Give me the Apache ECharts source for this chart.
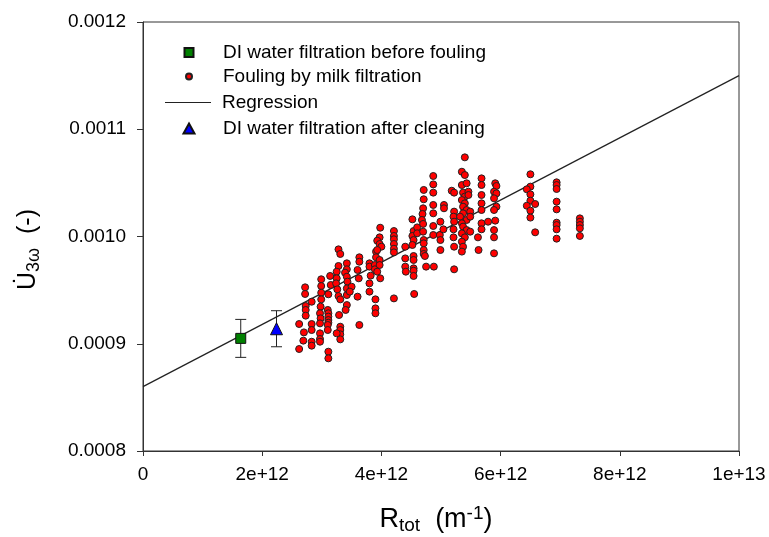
<!DOCTYPE html>
<html><head><meta charset="utf-8">
<script src="https://cdn.jsdelivr.net/npm/echarts@6/dist/echarts.min.js"></script>
<style>html,body{margin:0;padding:0;background:#fff}#chart{width:769px;height:537px}</style>
</head><body><div id="chart"></div>
<script>
// ---- data ----
const xTicks = [0, 2e12, 4e12, 6e12, 8e12, 1e13];
const yTicks = [0.0008, 0.0009, 0.0010, 0.0011, 0.0012];

const beforeX = [1.64e12];
const beforeY = [0.000905];
const beforeErr = [0.0000177];

const afterX = [2.24e12];
const afterY = [0.000914];
const afterErr = [0.0000168];

const regX = [0, 1e13];
const regY = [0.00086, 0.00115];

const milkPoints = [
[2.62e12,0.0009184],[2.62e12,0.0008951],[2.72e12,0.0009526],[2.72e12,0.0009464],[2.73e12,0.0009352],
[2.73e12,0.0009315],[2.73e12,0.0009262],[2.70e12,0.0009106],[2.69e12,0.0009029],[2.83e12,0.0009392],
[2.83e12,0.0009184],[2.83e12,0.0009128],[2.83e12,0.0009019],[2.83e12,0.0008982],[2.99e12,0.0009601],
[2.99e12,0.0009538],[2.99e12,0.0009476],[2.99e12,0.0009414],[2.98e12,0.0009346],[2.97e12,0.0009284],
[2.98e12,0.0009237],[2.97e12,0.0009190],[2.97e12,0.0009097],[2.97e12,0.0009044],[2.97e12,0.0009019],
[3.11e12,0.0009461],[3.10e12,0.0009315],[3.11e12,0.0009284],[3.11e12,0.0009253],[3.11e12,0.0009221],
[3.11e12,0.0009196],[3.10e12,0.0009175],[3.10e12,0.0009128],[3.11e12,0.0008926],[3.11e12,0.0008864],
[3.14e12,0.0009632],[3.15e12,0.0009548],[3.28e12,0.0009880],[3.31e12,0.0009837],[3.28e12,0.0009725],
[3.25e12,0.0009672],[3.25e12,0.0009610],[3.24e12,0.0009563],[3.26e12,0.0009507],[3.28e12,0.0009445],
[3.31e12,0.0009414],[3.29e12,0.0009268],[3.31e12,0.0009159],[3.31e12,0.0009128],[3.31e12,0.0009088],
[3.31e12,0.0009041],[3.25e12,0.0009097],[3.42e12,0.0009750],[3.42e12,0.0009694],[3.39e12,0.0009663],
[3.42e12,0.0009625],[3.43e12,0.0009579],[3.42e12,0.0009516],[3.42e12,0.0009454],[3.42e12,0.0009361],
[3.40e12,0.0009315],[3.50e12,0.0009532],[3.47e12,0.0009486],[3.63e12,0.0009806],[3.63e12,0.0009765],
[3.60e12,0.0009688],[3.62e12,0.0009610],[3.60e12,0.0009439],[3.63e12,0.0009175],[3.80e12,0.0009750],
[3.80e12,0.0009719],[3.82e12,0.0009635],[3.80e12,0.0009563],[3.80e12,0.0009486],[3.91e12,0.0009859],
[3.91e12,0.0009806],[3.89e12,0.0009734],[3.89e12,0.0009694],[3.90e12,0.0009414],[3.90e12,0.0009330],
[3.90e12,0.0009284],[3.98e12,0.0010082],[3.97e12,0.0009992],[3.93e12,0.0009961],[3.97e12,0.0009930],
[4.00e12,0.0009905],[3.93e12,0.0009874],[3.97e12,0.0009781],[3.97e12,0.0009734],[3.93e12,0.0009672],
[3.98e12,0.0009610],[4.21e12,0.0010051],[4.21e12,0.0010005],[4.21e12,0.0009974],[4.21e12,0.0009930],
[4.21e12,0.0009886],[4.21e12,0.0009852],[4.21e12,0.0009423],[4.40e12,0.0009905],[4.40e12,0.0009796],
[4.40e12,0.0009719],[4.41e12,0.0009672],[4.52e12,0.0010160],[4.54e12,0.0010051],[4.52e12,0.0010005],
[4.54e12,0.0009967],[4.52e12,0.0009921],[4.54e12,0.0009818],[4.54e12,0.0009781],[4.54e12,0.0009703],
[4.54e12,0.0009681],[4.54e12,0.0009632],[4.55e12,0.0009464],[4.60e12,0.0010085],[4.60e12,0.0010030],
[4.71e12,0.0010434],[4.71e12,0.0010347],[4.70e12,0.0010263],[4.69e12,0.0010210],[4.68e12,0.0010154],
[4.70e12,0.0010117],[4.70e12,0.0010045],[4.71e12,0.0009967],[4.71e12,0.0009936],[4.71e12,0.0009874],
[4.71e12,0.0009837],[4.73e12,0.0009818],[4.75e12,0.0009719],[4.87e12,0.0010564],[4.87e12,0.0010486],
[4.87e12,0.0010409],[4.87e12,0.0010294],[4.87e12,0.0010216],[4.87e12,0.0010098],[4.87e12,0.0010014],
[4.88e12,0.0009719],[4.99e12,0.0010138],[4.98e12,0.0010014],[4.99e12,0.0009967],[4.99e12,0.0009874],
[5.05e12,0.0010294],[5.05e12,0.0010263],[5.04e12,0.0010067],[5.18e12,0.0010427],[5.22e12,0.0010409],
[5.22e12,0.0010232],[5.21e12,0.0010185],[5.22e12,0.0010138],[5.21e12,0.0010067],[5.21e12,0.0009992],
[5.22e12,0.0009905],[5.22e12,0.0009694],[5.40e12,0.0010738],[5.35e12,0.0010604],[5.40e12,0.0010573],
[5.35e12,0.0010480],[5.37e12,0.0010409],[5.40e12,0.0010372],[5.35e12,0.0010340],[5.40e12,0.0010309],
[5.37e12,0.0010278],[5.43e12,0.0010247],[5.37e12,0.0010216],[5.32e12,0.0010185],[5.43e12,0.0010154],
[5.35e12,0.0010123],[5.37e12,0.0010092],[5.43e12,0.0010060],[5.35e12,0.0010029],[5.40e12,0.0009992],
[5.35e12,0.0009952],[5.37e12,0.0009905],[5.35e12,0.0009859],[5.43e12,0.0010496],[5.46e12,0.0010418],
[5.46e12,0.0010387],[5.49e12,0.0010232],[5.49e12,0.0010185],[5.49e12,0.0010045],[5.68e12,0.0010542],
[5.68e12,0.0010480],[5.68e12,0.0010387],[5.68e12,0.0010309],[5.68e12,0.0010247],[5.68e12,0.0010123],
[5.68e12,0.0010067],[5.62e12,0.0009992],[5.63e12,0.0009874],[5.79e12,0.0010138],[5.91e12,0.0010496],
[5.93e12,0.0010471],[5.89e12,0.0010418],[5.93e12,0.0010402],[5.89e12,0.0010356],[5.93e12,0.0010278],
[5.89e12,0.0010247],[5.91e12,0.0010148],[5.89e12,0.0010060],[5.89e12,0.0009992],[5.89e12,0.0009843],
[6.50e12,0.0010580],[6.50e12,0.0010465],[6.44e12,0.0010440],[6.50e12,0.0010393],[6.50e12,0.0010334],
[6.44e12,0.0010287],[6.58e12,0.0010303],[6.50e12,0.0010241],[6.50e12,0.0010176],[6.58e12,0.0010039],
[6.94e12,0.0010505],[6.94e12,0.0010480],[6.94e12,0.0010443],[6.94e12,0.0010325],[6.94e12,0.0010253],
[6.94e12,0.0010129],[6.94e12,0.0010107],[6.94e12,0.0010067],[6.94e12,0.0009980],
[7.33e12,0.0010169],[7.33e12,0.0010138],[7.33e12,0.0010107],[7.33e12,0.0010076],[7.33e12,0.0010005]
];

const names = {
  before: 'DI water filtration before fouling',
  milk: 'Fouling by milk filtration',
  reg: 'Regression',
  after: 'DI water filtration after cleaning'
};

// ---- chart ----
const FONT = "'Liberation Sans', Arial, sans-serif";
const chart = echarts.init(document.getElementById('chart'), null, {renderer: 'canvas'});

const errData = beforeX.map((x, i) => [x, beforeY[i] - beforeErr[i], beforeY[i] + beforeErr[i]])
  .concat(afterX.map((x, i) => [x, afterY[i] - afterErr[i], afterY[i] + afterErr[i]]));

// legend rows: icon centred at x=188, text starting at x=222
function legendItem(item, top, w, h) {
  const left = 188 - w / 2;
  return {
    data: [item], orient: 'vertical', left: left, top: top, padding: 0,
    itemWidth: w, itemHeight: h, selectedMode: false,
    textStyle: {fontFamily: FONT, fontSize: 19, color: '#000', padding: [0, 0, 0, 222 - (left + w + 5)]}
  };
}

const option = {
  animation: false,
  backgroundColor: '#fff',
  grid: {left: 143, right: 30, top: 22, bottom: 86, containLabel: false, outerBoundsMode: 'none',
    show: true, borderColor: '#333', borderWidth: 1, backgroundColor: 'transparent'},
  legend: [
    legendItem({name: names.before, icon: 'rect'}, 43, 9, 9),
    legendItem({name: names.milk, icon: 'circle'}, 67, 6, 6),
    legendItem({name: names.reg, icon: 'rect', itemStyle: {color: '#222'}}, 93, 46, 1),
    legendItem({name: names.after, icon: 'triangle'}, 119, 11, 10)
  ],
  xAxis: {
    type: 'value', min: xTicks[0], max: xTicks[xTicks.length - 1], interval: xTicks[1] - xTicks[0],
    axisLine: {lineStyle: {color: '#333', width: 1}},
    axisTick: {length: 5, lineStyle: {color: '#333'}},
    splitLine: {show: false},
    axisLabel: {fontFamily: FONT, fontSize: 19, color: '#000', margin: 14,
      formatter: v => v === 0 ? '0' : v.toExponential()},
    name: '{r|R}{s|tot}{r|  (m}{t|-1}{r|)}',
    nameLocation: 'middle', nameGap: 53,
    nameTextStyle: {fontFamily: FONT, color: '#000', padding: [0, 10, 0, 0], rich: {
      r: {fontFamily: FONT, fontSize: 27, color: '#000', lineHeight: 31, verticalAlign: 'middle'},
      s: {fontFamily: FONT, fontSize: 19, color: '#000', lineHeight: 18, verticalAlign: 'bottom'},
      t: {fontFamily: FONT, fontSize: 19, color: '#000', lineHeight: 18, verticalAlign: 'top'}
    }}
  },
  yAxis: {
    type: 'value', min: yTicks[0], max: yTicks[yTicks.length - 1], interval: 0.0001,
    axisLine: {show: true, lineStyle: {color: '#333', width: 1}},
    axisTick: {show: true, length: 6, lineStyle: {color: '#333'}},
    splitLine: {show: false},
    axisLabel: {fontFamily: FONT, fontSize: 19, color: '#000', margin: 17,
      formatter: v => v.toFixed(4)},
    name: '{u|U\u0307}{s|3\u03c9}{u|  (-)}',
    nameLocation: 'middle', nameGap: 100,
    nameTextStyle: {fontFamily: FONT, color: '#000', padding: [0, 26, 0, 0], rich: {
      u: {fontFamily: FONT, fontSize: 25, color: '#000', lineHeight: 30, verticalAlign: 'middle'},
      s: {fontFamily: FONT, fontSize: 18, color: '#000', lineHeight: 17, verticalAlign: 'bottom'}
    }}
  },
  series: [
    {
      name: names.reg, type: 'line', data: regX.map((x, i) => [x, regY[i]]),
      showSymbol: false, symbol: 'none', z: 1,
      lineStyle: {color: '#222', width: 1.2}, itemStyle: {color: '#222'}
    },
    {
      name: 'errorbars', type: 'custom', z: 2,
      encode: {x: 0, y: [1, 2]},
      data: errData,
      renderItem: function (params, api) {
        const x = api.value(0);
        const lo = api.coord([x, api.value(1)]);
        const hi = api.coord([x, api.value(2)]);
        const hw = 5.5;
        const st = {stroke: '#222', lineWidth: 1};
        return {type: 'group', children: [
          {type: 'line', shape: {x1: hi[0], y1: hi[1], x2: lo[0], y2: lo[1]}, style: st},
          {type: 'line', shape: {x1: hi[0] - hw, y1: hi[1], x2: hi[0] + hw, y2: hi[1]}, style: st},
          {type: 'line', shape: {x1: lo[0] - hw, y1: lo[1], x2: lo[0] + hw, y2: lo[1]}, style: st}
        ]};
      }
    },
    {
      name: names.milk, type: 'scatter', z: 3, symbol: 'circle', symbolSize: 7,
      data: milkPoints,
      itemStyle: {color: '#ff0000', borderColor: '#222', borderWidth: 1, opacity: 1}
    },
    {
      name: names.before, type: 'scatter', z: 4, symbol: 'rect', symbolSize: 10,
      data: beforeX.map((x, i) => [x, beforeY[i]]),
      itemStyle: {color: '#008000', borderColor: '#111', borderWidth: 1, opacity: 1}
    },
    {
      name: names.after, type: 'scatter', z: 4, symbol: 'triangle', symbolSize: 12,
      data: afterX.map((x, i) => [x, afterY[i]]),
      itemStyle: {color: '#0000ff', borderColor: '#111', borderWidth: 1, opacity: 1}
    }
  ]
};
chart.setOption(option);
</script></body></html>
